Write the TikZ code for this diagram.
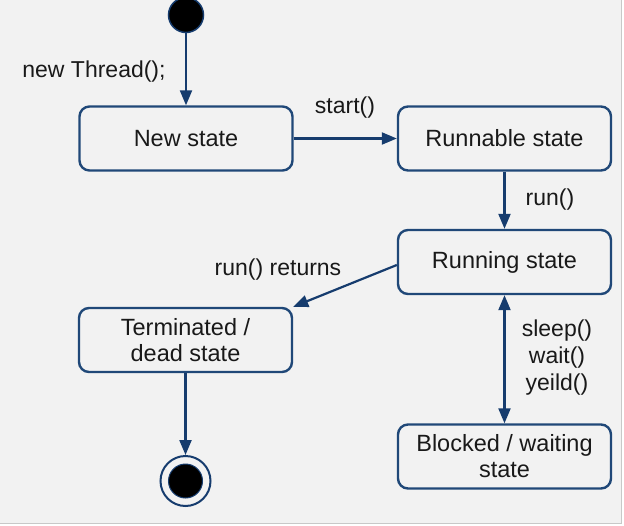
\documentclass[tikz,border=0pt]{standalone}
\usepackage{fontspec}
\setmainfont{Liberation Sans}
\definecolor{thrblue}{RGB}{32,72,120}
\definecolor{thrnavy}{RGB}{22,60,110}
\definecolor{thrback}{RGB}{242,242,242}
\definecolor{thredge}{RGB}{200,200,200}
\definecolor{thrtext}{RGB}{25,25,25}
\usetikzlibrary{arrows.meta}

\begin{document}
\begin{tikzpicture}[x=1pt, y=-1pt,
    statebox/.style={draw=thrblue, line width=2.4pt, rounded corners=10pt,
      minimum width=213pt, minimum height=64pt, align=center, inner sep=0pt,
      text=thrtext, font=\fontsize{23.5}{26}\selectfont},
    lbl/.style={align=center, inner sep=0pt, text=thrtext, font=\fontsize{23}{27}\selectfont},
    trans/.style={draw=thrnavy, line width=2.2pt, -{Triangle[length=15pt,width=12pt]}}]
        \useasboundingbox (0,0) rectangle (624,525);
        \fill[white] (0,0) rectangle (624,525);
        \fill[thrback] (0,0) rectangle (621,523);
        \draw[thredge, line width=1pt] (621,0) -- (621,523) -- (0,523);
        % states
        \node[circle, fill=black, draw=thrnavy, line width=1.5pt, minimum size=35pt, inner sep=0pt] (init) at (186,15) {};
        \node[statebox] (new) at (186,138.5) {New state};
        \node[statebox] (runnable) at (504.5,138.5) {Runnable state};
        \node[statebox] (running) at (504.5,262) {Running state};
        \node[statebox] (term) at (185.5,340) {Terminated /\\dead state};
        \node[statebox] (blocked) at (504.5,456.5) {Blocked / waiting\\state};
        \node[circle, draw=thrnavy, line width=2pt, minimum size=50pt, inner sep=0pt] (final) at (185.5,481) {};
        \node[circle, fill=black, draw=thrnavy, line width=1pt, minimum size=34pt, inner sep=0pt] at (final) {};
        % transitions
        \draw[trans] (init) -- (new);
        \draw[trans] (new) -- (runnable);
        \draw[trans] (runnable) -- (running);
        \draw[trans] ([yshift=-3pt]running.west) -- (term.north east);
        \draw[trans, {Triangle[length=15pt,width=12pt]}-{Triangle[length=15pt,width=12pt]}] (running) -- (blocked);
        \draw[trans] (term) -- (final);
        % labels
        \node[lbl] (lnew) at (94,72) {new Thread();};
        \node[lbl] (lstart) at (345,108) {start()};
        \node[lbl] (lrun) at (550,200) {run()};
        \node[lbl] (lret) at (278,270) {run() returns};
        \node[lbl] (lsleep) at (557,358) {sleep()\\wait()\\yeild()};
      \end{tikzpicture}
\end{document}
